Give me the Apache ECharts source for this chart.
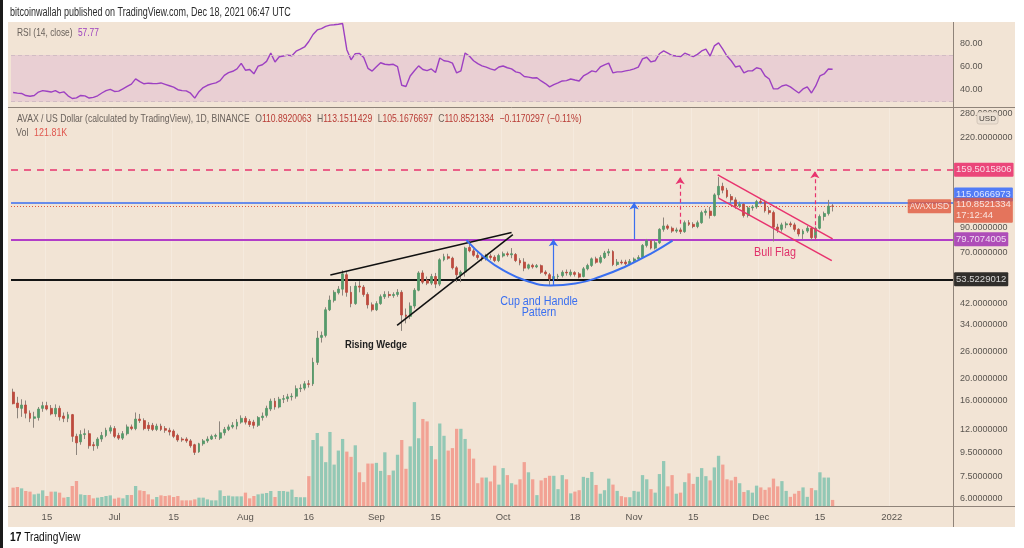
<!DOCTYPE html>
<html><head><meta charset="utf-8">
<script src="https://cdn.jsdelivr.net/npm/echarts@6/dist/echarts.min.js"></script>
<style>html,body{margin:0;padding:0;background:#fff}#c{width:1024px;height:548px}</style>
</head><body><div id="c"></div>
<script>
// ---------- data ----------
const startDate = Date.UTC(2021, 5, 7);   // first daily candle
const dayCount = 223;                      // axis runs to mid-January 2022
const categories = [];
for (let i = 0; i < dayCount; i++) categories.push(new Date(startDate + i * 86400000).toISOString().slice(0, 10));

const timeTickLabels = {'2021-06-15':'15','2021-07-01':'Jul','2021-07-15':'15','2021-08-01':'Aug','2021-08-16':'16',
  '2021-09-01':'Sep','2021-09-15':'15','2021-10-01':'Oct','2021-10-18':'18','2021-11-01':'Nov','2021-11-15':'15',
  '2021-12-01':'Dec','2021-12-15':'15','2022-01-01':'2022'};
const priceTicks = [6, 7.5, 9.5, 12, 16, 20, 26, 34, 42, 70, 90, 220, 280];
const rsiTicks = [40, 60, 80];

// [open, close, low, high]
const ohlc = [
[17.4,15.5,15.4,18.0],[15.6,14.9,13.4,16.6],[14.8,15.3,13.6,16.2],[15.3,14.1,13.4,16.0],[14.1,13.4,12.9,14.5],
[13.4,13.6,12.2,14.3],[13.5,14.7,13.1,15.0],[14.8,15.2,14.3,15.8],[15.2,14.7,14.5,15.8],[14.8,14.0,13.8,15.3],
[14.0,14.8,13.6,15.4],[14.8,13.6,13.1,15.2],[13.7,13.4,12.9,14.2],[13.4,13.9,12.9,14.3],[13.9,11.2,10.6,14.0],
[11.2,10.5,9.3,11.5],[10.6,11.4,10.3,11.9],[11.4,11.5,10.9,12.1],[11.5,10.2,9.9,11.9],[10.3,10.2,9.7,10.6],
[10.2,10.9,9.9,11.1],[10.9,11.3,10.6,11.7],[11.3,11.9,11.1,12.2],[11.8,12.2,11.5,12.5],[12.1,11.2,11.0,12.4],
[11.3,11.0,10.8,11.6],[11.0,11.5,10.8,11.8],[11.5,12.3,11.3,12.6],[12.3,12.1,11.9,12.6],[12.1,13.3,11.9,14.2],
[13.3,13.1,12.8,14.0],[13.1,12.1,11.9,13.4],[12.5,12.1,11.8,12.9],[12.5,12.0,11.8,12.8],[12.0,12.4,11.8,12.7],
[12.4,12.0,11.8,12.7],[12.1,11.9,11.6,12.4],[11.9,11.7,11.3,12.2],[11.8,11.2,11.0,12.0],[11.3,10.8,10.6,11.5],
[10.9,10.8,10.6,11.1],[10.9,10.7,10.5,11.1],[10.7,10.2,10.0,10.9],[10.3,9.55,9.3,10.4],[9.6,10.4,9.5,10.5],
[10.4,10.7,10.2,10.9],[10.7,10.9,10.5,11.2],[10.9,11.2,10.8,11.4],[11.2,11.3,10.9,11.5],[11.0,11.6,10.8,13.0],
[11.6,12.0,11.3,12.3],[12.0,12.3,11.8,12.6],[12.3,12.5,12.1,12.9],[12.4,12.9,12.0,13.3],[12.9,13.4,12.7,13.8],
[13.4,12.9,12.6,13.7],[13.0,12.6,12.3,13.3],[12.9,12.5,12.1,13.2],[12.5,13.5,12.3,13.7],[13.5,13.7,13.1,14.2],
[13.8,14.8,13.5,15.2],[14.7,15.9,14.4,16.3],[15.9,15.0,14.6,16.4],[15.0,16.2,14.8,16.6],[16.2,16.3,15.6,16.9],
[16.3,16.6,15.8,17.1],[16.6,16.7,16.0,17.2],[16.7,18.0,16.3,18.6],[18.0,18.1,17.4,18.8],[18.1,18.9,17.7,19.4],
[18.9,18.8,18.2,19.6],[18.9,23.4,18.5,24.5],[23.4,29.8,22.8,32.0],[30.0,30.6,28.5,31.8],[30.6,39.5,30.0,40.5],
[39.5,43.5,39.0,45.5],[43.4,47.0,42.5,48.0],[46.8,48.5,46.0,50.0],[48.5,56.5,45.5,58.5],[56.0,47.0,45.0,57.5],
[47.0,42.0,40.5,50.0],[42.0,50.0,41.5,52.0],[50.0,49.5,47.0,52.5],[49.5,46.0,45.0,50.5],[46.0,41.5,40.0,47.0],
[41.5,39.5,38.8,42.5],[39.5,42.0,39.0,43.0],[42.0,45.0,41.5,46.0],[45.0,46.0,44.0,47.5],[46.0,45.5,44.5,47.5],
[45.5,46.0,44.5,47.0],[46.0,47.0,45.0,48.5],[47.0,37.5,32.0,48.0],[37.5,37.0,34.5,40.0],[37.0,41.0,36.0,42.5],
[41.0,48.0,40.0,49.0],[48.0,57.0,47.5,58.0],[57.0,52.0,51.0,58.5],[53.0,51.5,50.5,55.0],[51.5,55.0,50.5,56.5],
[55.0,51.0,49.0,57.0],[51.0,65.0,50.0,66.0],[65.0,67.0,64.0,69.0],[67.0,66.0,65.0,69.0],[66.0,60.0,59.0,67.0],
[60.0,56.0,52.0,61.0],[56.0,57.5,52.0,58.5],[57.5,73.0,55.0,74.0],[73.5,71.0,70.0,79.7],[71.0,68.0,67.0,72.5],
[68.0,66.5,65.0,70.0],[66.5,65.6,64.0,69.0],[65.6,67.8,64.5,69.0],[67.5,66.5,65.0,69.0],[66.7,64.5,63.5,68.0],
[64.5,67.8,63.5,69.0],[67.5,69.0,66.5,70.5],[69.0,68.3,67.0,70.5],[68.3,69.0,66.0,73.0],[68.5,64.5,63.5,69.5],
[64.5,63.0,61.5,66.0],[63.5,59.8,58.0,66.0],[59.8,61.8,59.0,62.5],[61.5,60.5,59.5,62.5],[60.5,61.3,59.8,62.3],
[61.3,57.4,56.5,62.0],[57.5,56.5,55.5,58.5],[56.0,53.7,50.5,57.0],[53.8,55.0,52.5,56.0],[55.0,55.3,53.5,56.5],
[55.5,57.4,54.5,58.5],[57.4,57.0,55.5,59.0],[56.0,57.5,55.0,59.0],[57.2,56.2,55.0,58.0],[56.5,54.7,54.0,57.5],
[55.0,59.4,54.5,60.5],[59.4,61.4,58.5,62.5],[61.4,65.6,60.5,66.5],[65.6,63.4,62.5,67.0],[63.4,66.5,62.5,68.0],
[66.5,69.5,65.5,71.0],[69.5,70.5,67.5,72.5],[70.5,62.0,61.0,71.5],[62.0,63.5,61.0,65.5],[63.5,63.0,62.0,65.0],
[63.5,62.5,61.5,65.0],[62.5,64.0,61.5,65.5],[64.0,65.5,63.0,66.5],[65.5,66.5,64.5,68.0],[66.5,75.0,66.0,76.0],
[75.0,78.5,73.5,80.0],[78.5,73.0,72.0,79.5],[73.0,77.0,72.0,79.0],[77.0,88.0,76.0,89.0],[88.0,91.0,86.0,99.0],
[91.0,89.0,87.5,92.5],[89.0,86.5,85.0,90.5],[86.5,87.5,85.0,89.5],[87.5,86.0,84.0,89.5],[86.0,94.0,85.0,96.0],
[94.0,92.5,91.0,96.5],[92.5,90.5,89.0,94.5],[90.5,94.0,89.0,96.0],[94.0,104.0,93.0,106.0],[104.0,105.5,101.0,108.0],
[105.5,101.0,98.0,110.0],[101.0,124.0,100.0,126.0],[124.0,135.0,120.0,148.0],[135.0,130.0,126.0,140.0],[130.0,122.0,120.0,133.0],
[122.0,118.0,114.0,125.0],[118.0,111.0,108.0,121.0],[111.0,113.0,109.0,116.0],[113.0,101.0,99.0,114.0],[101.0,109.0,99.0,111.0],
[109.0,110.0,106.0,112.0],[110.0,116.0,108.0,118.0],[116.0,115.0,113.0,120.0],[115.0,106.0,104.0,118.0],[106.0,104.0,102.0,110.0],
[104.0,90.0,78.0,106.0],[90.0,88.0,85.0,93.0],[88.0,92.0,86.0,94.0],[92.0,93.0,89.0,95.0],[93.0,92.0,90.0,95.0],
[92.0,88.0,86.0,94.0],[88.0,84.0,82.0,89.0],[84.0,86.5,80.0,88.0],[86.5,89.0,85.0,91.0],[89.0,81.0,79.0,90.0],
[81.0,89.0,79.5,90.5],[89.0,100.0,88.0,102.0],[100.0,103.0,96.0,105.0],[103.0,110.9,101.0,118.0],[110.8920063,110.8521334,105.1676697,113.1511429]
];

// volume, thousands
const volume = [367,380,353,300,287,233,247,313,200,287,287,267,167,180,400,500,233,220,220,153,
167,180,200,213,147,167,153,220,220,400,313,300,233,133,180,213,200,213,180,200,
113,113,113,133,167,167,133,113,113,313,200,207,193,193,193,267,153,200,233,247,
260,300,180,300,300,287,327,180,175,175,
597,1320,1460,1193,877,1481,828,1109,1341,1088,983,1214,674,477,849,849,863,702,1074,618,
709,1025,1320,744,1193,2078,1355,1741,1692,1200,934,1650,1404,1109,1158,1544,1544,1341,1144,948,
456,569,569,491,807,428,758,618,456,428,534,878,674,534,218,512,562,604,604,337,
618,534,253,288,316,583,562,681,421,246,316,548,428,302,197,176,176,302,288,618,
534,337,267,639,899,393,618,246,267,477,653,442,583,758,597,512,772,1004,828,534,
512,583,456,281,316,267,407,372,323,372,548,393,498,302,183,246,302,372,183,358,
316,674,569,569,121.81];

const rsi = [37.8,37.3,37.0,35.2,34.6,35.2,38.2,39.4,38.9,38.2,39.5,37.5,38.4,35.0,32.7,33.2,35.3,34.9,33.1,33.6,
35.0,37.4,39.4,40.5,38.7,39.0,41.0,43.0,45.0,49.5,47.1,45.3,45.8,45.5,45.4,46.0,44.8,43.6,42.4,40.2,
39.4,39.2,37.2,33.0,38.5,42.0,44.0,45.2,46.1,48.0,52.5,54.8,56.0,58.0,62.8,56.9,57.5,53.8,60.4,61.6,
64.5,71.5,64.0,68.4,69.1,69.8,69.3,73.2,74.9,76.8,81.5,87.5,91.4,92.5,94.4,95.5,95.8,96.3,96.9,74.5,
65.8,71.1,71.2,67.7,58.5,56.2,59.8,63.3,62.0,61.6,62.0,60.0,44.0,43.0,52.0,56.5,60.6,57.5,56.5,58.0,
55.0,67.4,65.0,64.5,63.0,54.6,56.3,71.7,69.0,65.0,62.5,60.6,59.5,58.0,57.0,59.7,60.5,59.0,58.0,55.5,
54.6,51.5,51.0,50.2,50.5,47.7,45.5,42.6,44.5,46.0,47.7,48.0,49.4,48.5,47.7,52.0,54.0,56.3,55.5,59.7,
61.5,63.0,54.6,55.5,55.5,56.3,57.0,58.0,59.5,66.6,68.0,64.0,65.0,71.0,73.4,71.5,69.5,69.1,68.5,71.5,
70.0,68.5,70.5,73.4,75.0,69.0,77.7,80.3,75.0,69.0,65.0,59.7,60.6,54.6,56.3,56.3,59.0,58.0,52.0,49.4,
40.9,40.9,43.4,44.3,42.6,40.0,37.4,40.9,42.6,37.4,43.4,52.0,53.7,58.0,57.77];

// horizontal levels: resistance, breakout, previous high, support
const levelValues = [159.5015806, 115.0666973, 79.7074005, 53.5229012];
const lastPrice = 110.8521334;

// drawn annotations, [day index, price]
const wedgeUpper = [[75.1, 55.9], [118.0, 85.2]];
const wedgeLower = [[90.9, 33.8], [118.3, 83.5]];
const cupArc = [[107.3, 79.0], [111.8, 66.0], [116.5, 57.9], [121.3, 52.9], [127.2, 50.3], [133.1, 51.3],
                [139.1, 55.0], [145.0, 60.8], [150.9, 69.0], [156.1, 78.7]];
const flagUpper = [[166.8, 151.3], [194.0, 80.1]];
const flagLower = [[167.0, 120.0], [193.8, 64.5]];
const blueArrows = [[[127.9, 50.5], [127.9, 79.7]], [[147.0, 79.7], [147.0, 115.07]]];
const redArrows = [[[157.9, 93.0], [157.9, 148.0]], [[189.8, 79.7], [189.8, 157.0]]];

// ---------- chart ----------
const FONT = "'Liberation Sans',Arial,sans-serif";
const UP = '#56996a', DOWN = '#bd4a3e', WICK = '#8d847c';
const VOL_UP = '#93c8b5', VOL_DOWN = '#f2a294';
const BG = '#f2e4d5';
const AXIS_TXT = '#5a5550';

const bodies = ohlc.map(d => [d[0], d[1], Math.min(d[0], d[1]), Math.max(d[0], d[1])]);
const volData = volume.map((v, i) => ({value: v, itemStyle: {color: ohlc[i][1] >= ohlc[i][0] ? VOL_UP : VOL_DOWN}}));
const fmtTick = v => (Math.round(v * 1e6) / 1e6).toFixed(7);
const fmtTag = v => v.toFixed(7);

const tagLabel = (bg, extra) => Object.assign({show: true, position: 'right', distance: 1, color: '#fff', fontSize: 9.5,
  backgroundColor: bg, padding: [2, 2, 1, 2], lineHeight: 11, borderRadius: 1}, extra || {});

const lineSeries = (data, color, width, smooth) => ({type: 'line', xAxisIndex: 3, yAxisIndex: 1, data: data,
  showSymbol: false, symbol: 'none', smooth: smooth || false, silent: true, z: 6,
  lineStyle: {color: color, width: width}});

const txt = (x, y, text, fill, font, sx, align) => ({type: 'text', z: 50, x: x, y: y, scaleX: sx,
  style: {text: text, fill: fill, font: font, align: align || 'left', verticalAlign: 'middle'}});

const chart = echarts.init(document.getElementById('c'), null, {renderer: 'canvas'});
chart.setOption({
  animation: false,
  backgroundColor: '#ffffff',
  textStyle: {fontFamily: FONT},
  grid: [
    {left: 11, width: 942, top: 22, height: 85},
    {left: 11, width: 942, top: 107, height: 399},
    {left: 11, width: 942, top: 306, height: 200}
  ],
  xAxis: [
    {type: 'category', gridIndex: 0, data: categories, show: false},
    {type: 'category', gridIndex: 1, data: categories,
      axisLine: {show: false}, axisTick: {show: false},
      axisLabel: {interval: (i, v) => v in timeTickLabels, formatter: v => timeTickLabels[v] || '', color: AXIS_TXT, fontSize: 9.5, margin: 6},
      splitLine: {show: true, interval: (i, v) => v in timeTickLabels, lineStyle: {color: 'rgba(255,255,255,0.22)', width: 1}}},
    {type: 'category', gridIndex: 2, data: categories, show: false},
    {type: 'value', gridIndex: 1, min: -0.5, max: 222.5, show: false}
  ],
  yAxis: [
    {type: 'value', gridIndex: 0, position: 'right', min: 25.4, max: 98.2,
      splitLine: {show: false}, axisLine: {show: false}, axisTick: {show: false},
      axisLabel: {customValues: rsiTicks, formatter: v => v.toFixed(2), color: AXIS_TXT, fontSize: 9, margin: 7}},
    {type: 'log', gridIndex: 1, position: 'right', min: 5.596, max: 297.6,
      splitLine: {show: false}, axisLine: {show: false}, axisTick: {show: false},
      axisLabel: {customValues: priceTicks, formatter: fmtTick, color: AXIS_TXT, fontSize: 9, margin: 7}},
    {type: 'value', gridIndex: 2, min: 0, max: 4000, show: false}
  ],
  series: [
    {type: 'bar', name: 'Vol', xAxisIndex: 2, yAxisIndex: 2, data: volData, barWidth: '78%', z: 1, silent: true},
    {type: 'line', name: 'RSI', xAxisIndex: 0, yAxisIndex: 0, data: rsi, showSymbol: false, symbol: 'none',
      lineStyle: {color: '#9d40c2', width: 1.4}, z: 3, silent: true,
      markArea: {silent: true, itemStyle: {color: 'rgba(180,90,200,0.15)'}, data: [[{yAxis: 30}, {yAxis: 70}]]},
      markLine: {silent: true, symbol: ['none', 'none'], label: {show: false},
        lineStyle: {color: '#d2bcc4', type: [4, 3], width: 1}, data: [{yAxis: 70}, {yAxis: 30}]}},
    {type: 'candlestick', name: 'wick', xAxisIndex: 1, yAxisIndex: 1, data: ohlc, barWidth: 1, z: 3, silent: true,
      itemStyle: {color: WICK, color0: WICK, borderColor: WICK, borderColor0: WICK, borderWidth: 1},
      markLine: {silent: true, symbol: ['none', 'none'], label: {show: false}, z: 2,
        data: [
          {yAxis: levelValues[0], lineStyle: {color: '#e8336e', type: [7, 6], width: 1.5}},
          {yAxis: levelValues[1], lineStyle: {color: '#3a6ff0', type: 'solid', width: 1.5}},
          {yAxis: lastPrice, lineStyle: {color: '#e0573d', type: [1, 2], width: 1}},
          {yAxis: levelValues[2], lineStyle: {color: '#b23dc8', type: 'solid', width: 2}},
          {yAxis: levelValues[3], lineStyle: {color: '#141414', type: 'solid', width: 2}}
        ]}},
    {type: 'candlestick', name: 'AVAXUSD', xAxisIndex: 1, yAxisIndex: 1, data: bodies, barWidth: 2.4, z: 4, silent: true,
      itemStyle: {color: UP, color0: DOWN, borderColor: UP, borderColor0: DOWN, borderWidth: 0.8}},
    lineSeries(wedgeUpper, '#111', 1.5),
    lineSeries(wedgeLower, '#111', 1.5),
    Object.assign(lineSeries(cupArc, '#3a6ff0', 2, 0.5), {
      markLine: {silent: true, symbol: ['none', 'arrow'], symbolSize: 7, label: {show: false},
        data: blueArrows.map(a => [{coord: a[0], lineStyle: {color: '#3a6ff0', width: 1.2, type: 'solid'}}, {coord: a[1]}])
          .concat(redArrows.map(a => [{coord: a[0], lineStyle: {color: '#e8336e', width: 1.2, type: [4, 3]}}, {coord: a[1]}]))}
    }),
    lineSeries(flagUpper, '#e8336e', 1.5),
    lineSeries(flagLower, '#e8336e', 1.5),
    {type: 'scatter', xAxisIndex: 3, yAxisIndex: 1, symbolSize: 1, clip: false, silent: true, z: 8,
      itemStyle: {color: 'rgba(0,0,0,0)'},
      data: [
        {value: [222.4, levelValues[0]], label: tagLabel('#e91e63', {formatter: fmtTag(levelValues[0])})},
        {value: [222.4, levelValues[1]], label: tagLabel('#2962ff', {formatter: fmtTag(levelValues[1]), offset: [0, -8]})},
        {value: [222.4, lastPrice], label: tagLabel('#e0573d', {formatter: fmtTag(lastPrice) + '\n17:12:44', offset: [0, 4]})},
        {value: [222.4, lastPrice], label: tagLabel('#e0573d', {formatter: 'AVAXUSD', position: 'left', fontSize: 8.5, padding: [2, 2, 1, 2]})},
        {value: [222.4, levelValues[2]], label: tagLabel('#9c27b0', {formatter: fmtTag(levelValues[2])})},
        {value: [222.4, levelValues[3]], label: tagLabel('#000000', {formatter: fmtTag(levelValues[3])})}
      ]}
  ],
  graphic: [
    {type: 'rect', z: -100, shape: {x: 8, y: 22, width: 1007, height: 505}, style: {fill: BG}},
    {type: 'rect', z: 50, shape: {x: 0, y: 0, width: 3, height: 548}, style: {fill: '#1b1b1b'}},
    {type: 'line', z: 50, shape: {x1: 8, y1: 107.5, x2: 1015, y2: 107.5}, style: {stroke: '#8f8379', lineWidth: 1}},
    {type: 'line', z: 50, shape: {x1: 8, y1: 506.5, x2: 1015, y2: 506.5}, style: {stroke: '#8f8379', lineWidth: 1}},
    {type: 'line', z: 50, shape: {x1: 953.5, y1: 22, x2: 953.5, y2: 527}, style: {stroke: '#8f8379', lineWidth: 1}},
    txt(10, 13, 'bitcoinwallah published on TradingView.com, Dec 18, 2021 06:47 UTC', '#2b2b2b', '12px ' + FONT, 0.75),
    {type: 'text', z: 50, x: 17, y: 33, scaleX: 0.8, style: {text: '{g|RSI (14, close)}  {p|57.77}', verticalAlign: 'middle',
      rich: {g: {fill: '#6a625c', fontSize: 10.5, fontFamily: FONT}, p: {fill: '#9c3fbf', fontSize: 10.5, fontFamily: FONT}}}},
    {type: 'text', z: 50, x: 17, y: 119, scaleX: 0.82, style: {verticalAlign: 'middle',
      text: '{g|AVAX / US Dollar (calculated by TradingView), 1D, BINANCE}  {g|O}{r|110.8920063}  {g|H}{r|113.1511429}  {g|L}{r|105.1676697}  {g|C}{r|110.8521334}  {r|\u22120.1170297 (\u22120.11%)}',
      rich: {g: {fill: '#6a625c', fontSize: 10.5, fontFamily: FONT}, r: {fill: '#b83b35', fontSize: 10.5, fontFamily: FONT}}}},
    {type: 'text', z: 50, x: 16, y: 133, scaleX: 0.85, style: {verticalAlign: 'middle', text: '{g|Vol}  {r|121.81K}',
      rich: {g: {fill: '#6a625c', fontSize: 10.5, fontFamily: FONT}, r: {fill: '#e0574f', fontSize: 10.5, fontFamily: FONT}}}},
    txt(539, 302, 'Cup and Handle', '#3a6ff0', '12.5px ' + FONT, 0.86, 'center'),
    txt(539, 313, 'Pattern', '#3a6ff0', '12.5px ' + FONT, 0.86, 'center'),
    txt(376, 345, 'Rising Wedge', '#1e1e1e', 'bold 11.5px ' + FONT, 0.82, 'center'),
    txt(775, 253, 'Bull Flag', '#e0306a', '12.5px ' + FONT, 0.86, 'center'),
    {type: 'rect', z: 60, shape: {x: 977, y: 112, width: 21, height: 12, r: 2}, style: {fill: '#ebdfd2', stroke: '#cdbfb2', lineWidth: 0.8}},
    {type: 'text', z: 61, x: 987.5, y: 118.5, style: {text: 'USD', fill: '#4a4540', font: '8px ' + FONT, align: 'center', verticalAlign: 'middle'}},
    {type: 'text', z: 50, x: 10, y: 538, scaleX: 0.85, style: {text: '{b|17} {t|TradingView}', verticalAlign: 'middle',
      rich: {b: {fill: '#111', fontSize: 12, fontWeight: 'bold', fontFamily: FONT}, t: {fill: '#111', fontSize: 12, fontFamily: FONT}}}}
  ]
});
</script>
</body></html>
